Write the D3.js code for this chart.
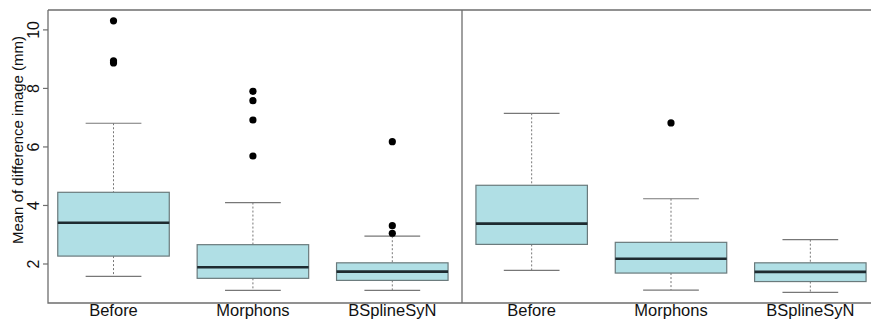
<!DOCTYPE html>
<html>
<head>
<meta charset="utf-8">
<title>Mean of difference image</title>
<script src="https://cdn.jsdelivr.net/npm/d3@7"></script>
<style>
  body { margin: 0; background: #fff; }
  text { font-family: "Liberation Sans", Arial, sans-serif; fill: #111; }
</style>
</head>
<body>
<svg id="chart" width="871" height="320"></svg>
<script>
// data
const methods = ["Before", "Morphons", "BSplineSyN"];
// [lower whisker, Q1, median, Q3, upper whisker] per method
const leftStats = [
  [1.58, 2.27, 3.41, 4.45, 6.81],
  [1.10, 1.51, 1.89, 2.66, 4.10],
  [1.10, 1.44, 1.74, 2.04, 2.95]
];
const leftOutliers = [
  [10.31, 8.94, 8.87],
  [7.90, 7.58, 6.92, 5.69],
  [6.18, 3.31, 3.05]
];
const rightStats = [
  [1.78, 2.67, 3.38, 4.69, 7.15],
  [1.11, 1.69, 2.18, 2.74, 4.23],
  [1.03, 1.40, 1.73, 2.04, 2.83]
];
const rightOutliers = [
  [],
  [6.82],
  []
];
const yTicks = [2, 4, 6, 8, 10];

const svg = d3.select("#chart");
const plotTop = 10, plotBottom = 303, plotLeft = 48, plotMid = 462, plotRight = 880;

const y = d3.scaleLinear().domain([0.667, 10.68]).range([plotBottom, plotTop]);

const panels = [
  {x: d3.scaleLinear().domain([-0.47, 2.5]).range([plotLeft, plotMid]), stats: leftStats, out: leftOutliers},
  {x: d3.scaleLinear().domain([-0.5, 2.5]).range([plotMid, plotRight]), stats: rightStats, out: rightOutliers}
];

const frame = "#6e6e6e";
const boxW = 0.8, capW = 0.4;

panels.forEach(function(p) {
  const g = svg.append("g");
  const unit = p.x(1) - p.x(0);
  p.stats.forEach(function(s, i) {
    const cx = p.x(i);
    // whiskers
    g.append("line").attr("x1", cx).attr("x2", cx).attr("y1", y(s[4])).attr("y2", y(s[3]))
      .attr("stroke", "#777").attr("stroke-dasharray", "2,2");
    g.append("line").attr("x1", cx).attr("x2", cx).attr("y1", y(s[1])).attr("y2", y(s[0]))
      .attr("stroke", "#777").attr("stroke-dasharray", "2,2");
    // caps
    [s[0], s[4]].forEach(function(v) {
      g.append("line").attr("x1", cx - unit * capW / 2).attr("x2", cx + unit * capW / 2)
        .attr("y1", y(v)).attr("y2", y(v)).attr("stroke", "#777").attr("stroke-width", 1.2);
    });
    // box
    g.append("rect").attr("x", cx - unit * boxW / 2).attr("width", unit * boxW)
      .attr("y", y(s[3])).attr("height", y(s[1]) - y(s[3]))
      .attr("fill", "#b0dfe5").attr("stroke", "#6a7a7c").attr("stroke-width", 1.2);
    // median
    g.append("line").attr("x1", cx - unit * boxW / 2).attr("x2", cx + unit * boxW / 2)
      .attr("y1", y(s[2])).attr("y2", y(s[2])).attr("stroke", "#1e2b30").attr("stroke-width", 2.6);
    // outliers
    p.out[i].forEach(function(v) {
      g.append("circle").attr("cx", cx).attr("cy", y(v)).attr("r", 3.6).attr("fill", "#000");
    });
    // category label
    svg.append("text").attr("x", cx).attr("y", 316).attr("text-anchor", "middle")
      .attr("font-size", 16.5).text(methods[i]);
  });
});

// frame
svg.append("path")
  .attr("d", `M${plotLeft},${plotTop}V${plotBottom}H${plotRight}M${plotLeft},${plotTop}H${plotRight}M${plotMid},${plotTop}V${plotBottom}`)
  .attr("fill", "none").attr("stroke", frame).attr("stroke-width", 1.3);

// y axis
const yAxis = svg.append("g");
yTicks.forEach(function(t) {
  yAxis.append("line").attr("x1", plotLeft - 5).attr("x2", plotLeft).attr("y1", y(t)).attr("y2", y(t))
    .attr("stroke", frame).attr("stroke-width", 1.2);
  yAxis.append("text").attr("transform", `translate(39,${y(t)}) rotate(-90)`)
    .attr("text-anchor", "middle").attr("font-size", 16).text(t);
});
svg.append("text").attr("transform", `translate(23,140) rotate(-90)`)
  .attr("text-anchor", "middle").attr("font-size", 15).text("Mean of difference image (mm)");
</script>
</body>
</html>
